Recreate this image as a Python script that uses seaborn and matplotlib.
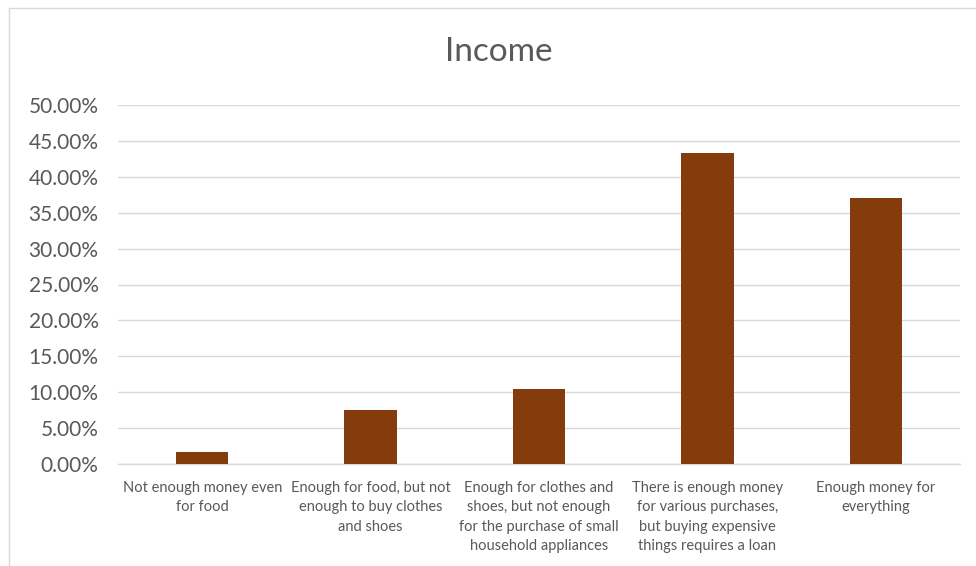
import matplotlib
matplotlib.use("Agg")
import matplotlib.pyplot as plt
import seaborn as sns
import pandas as pd
from matplotlib.patches import Rectangle
from matplotlib.ticker import FuncFormatter, MultipleLocator

categories = [
    "Not enough money even\nfor food",
    "Enough for food, but not\nenough to buy clothes\nand shoes",
    "Enough for clothes and\nshoes, but not enough\nfor the purchase of small\nhousehold appliances",
    "There is enough money\nfor various purchases,\nbut buying expensive\nthings requires a loan",
    "Enough money for\neverything",
]
values = [0.0167, 0.0753, 0.1046, 0.4333, 0.3706]
title = "Income"

sns.set_theme(style="white")
plt.rcParams['font.family'] = ['Lato', 'DejaVu Sans']

df = pd.DataFrame({"cat": categories, "val": values})

fig = plt.figure(figsize=(9.76, 5.66), dpi=100)
ax = fig.add_axes([118/976, 1-464/566, (960-118)/976, (464-105)/566])

sns.barplot(data=df, x="cat", y="val", color="#843C0C", width=0.31, ax=ax,
            saturation=1, zorder=3, edgecolor="none")

ax.set_ylim(0, 0.5)
ax.yaxis.set_major_locator(MultipleLocator(0.05))
ax.yaxis.set_major_formatter(FuncFormatter(lambda v, p: f"{v*100:.2f}%"))
ax.grid(axis="y", color="#D9D9D9", linewidth=1.0, zorder=0)
ax.set_axisbelow(True)
for s in ["top", "right", "left"]:
    ax.spines[s].set_visible(False)
ax.spines["bottom"].set_color("#D9D9D9")
ax.spines["bottom"].set_linewidth(1.0)
ax.set_xlabel("")
ax.set_ylabel("")
ax.tick_params(axis="y", length=0, pad=14, labelsize=15, labelcolor="#595959")
ax.tick_params(axis="x", length=0, pad=12, labelsize=10.5, labelcolor="#595959")
for lbl in ax.get_xticklabels():
    lbl.set_linespacing(1.5)
    lbl.set_verticalalignment("top")

fig.text(499/976, 1-52/566, title, ha="center", va="center", fontsize=24, color="#595959")

fig.patches.append(Rectangle((9/976, -0.1), 1.2, 1-8/566+0.1, transform=fig.transFigure,
                             fill=False, edgecolor="#D9D9D9", linewidth=1.0))

fig.savefig("out.png", dpi=100)
